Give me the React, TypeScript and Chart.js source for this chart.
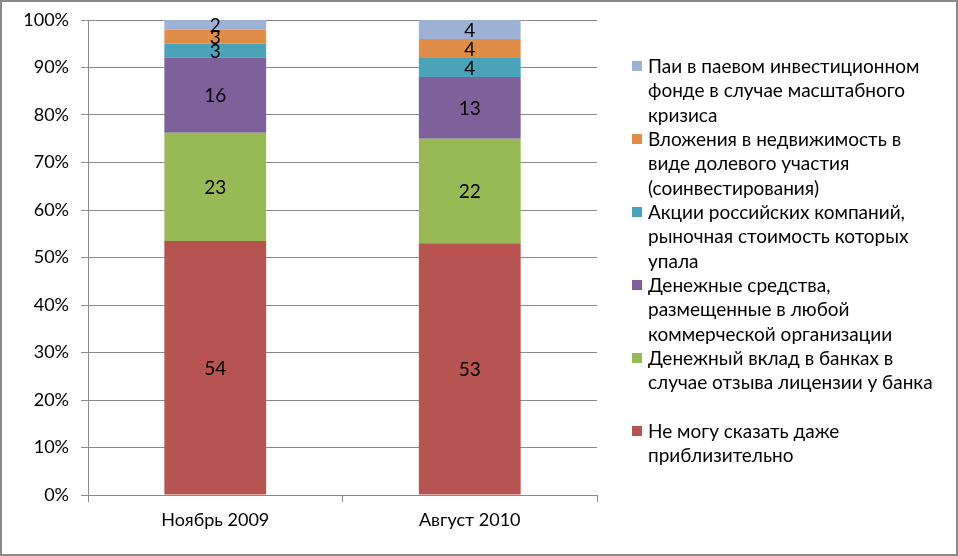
import React, { useEffect, useRef } from "react";
import { Chart, registerables } from "chart.js";

Chart.register(...registerables);

// Survey periods on the category axis
const categories = ["Ноябрь 2009", "Август 2010"];

// Answer options, bottom of the stack first
const seriesNames = [
  "Не могу сказать даже\nприблизительно",
  "Денежный вклад в банках в\nслучае отзыва лицензии у банка",
  "Денежные средства,\nразмещенные в любой\nкоммерческой организации",
  "Акции российских компаний,\nрыночная стоимость которых\nупала",
  "Вложения в недвижимость в\nвиде долевого участия\n(соинвестирования)",
  "Паи в паевом инвестиционном\nфонде в случае масштабного\nкризиса",
];

const seriesColors = ["#B75350", "#98B955", "#7E619B", "#4BA3BA", "#E08E47", "#9DB1D5"];

// Answer shares per period, same order as seriesNames
const cantSay = [54, 53];
const bankDeposit = [23, 22];
const commercialOrg = [16, 13];
const russianShares = [3, 4];
const realEstate = [3, 4];
const mutualFunds = [2, 4];

const seriesValues = [cantSay, bankDeposit, commercialOrg, russianShares, realEstate, mutualFunds];

const yTicks = [0, 10, 20, 30, 40, 50, 60, 70, 80, 90, 100];

const FONT = "Lato, 'Open Sans', sans-serif";

// Prints each segment's value in its middle
const valueLabels = {
  id: "valueLabels",
  afterDatasetsDraw(chart: any) {
    const ctx = chart.ctx;
    ctx.save();
    ctx.font = `19px ${FONT}`;
    ctx.fillStyle = "#000";
    ctx.textAlign = "center";
    ctx.textBaseline = "middle";
    chart.data.datasets.forEach((ds: any, di: number) => {
      const meta = chart.getDatasetMeta(di);
      meta.data.forEach((el: any, i: number) => {
        const raw = ds.rawValues[i];
        ctx.fillText(String(raw), el.x, (el.y + el.base) / 2 + 1);
      });
    });
    ctx.restore();
  },
};

export default function App() {
  const canvasRef = useRef<HTMLCanvasElement | null>(null);

  useEffect(() => {
    const totals = categories.map((_, i) => seriesValues.reduce((s, arr) => s + arr[i], 0));
    const chart = new Chart(canvasRef.current as HTMLCanvasElement, {
      type: "bar",
      data: {
        labels: categories,
        datasets: seriesValues.map((vals, k) => ({
          label: seriesNames[k],
          data: vals.map((v, i) => (v / totals[i]) * 100),
          rawValues: vals,
          backgroundColor: seriesColors[k],
          borderWidth: 0,
          categoryPercentage: 1,
          barPercentage: 0.4,
        })) as any,
      },
      options: {
        responsive: false,
        animation: false,
        layout: { padding: { left: 0, right: 359, top: 18, bottom: 0 } },
        plugins: {
          legend: { display: false },
          tooltip: { enabled: false },
        },
        scales: {
          x: {
            stacked: true,
            grid: {
              offset: true,
              drawOnChartArea: false,
              drawTicks: true,
              tickLength: 7,
              color: "#8a8a8a",
            },
            border: { color: "#8a8a8a", width: 1 },
            ticks: {
              color: "#000",
              font: { family: FONT, size: 18 },
              padding: 7,
            },
            afterFit(scale: any) {
              scale.height = 59;
              scale.paddingLeft = 0;
              scale.paddingRight = 0;
            },
          },
          y: {
            stacked: true,
            min: 0,
            max: 100,
            afterBuildTicks(scale: any) {
              scale.ticks = yTicks.map((v) => ({ value: v }));
            },
            grid: {
              color: "#8a8a8a",
              tickLength: 7,
            },
            border: { color: "#8a8a8a", width: 1 },
            ticks: {
              color: "#000",
              font: { family: FONT, size: 18 },
              padding: 12,
              callback: (v: any) => `${v}%`,
            },
            afterFit(scale: any) {
              scale.width = 86;
              scale.paddingTop = 0;
              scale.paddingBottom = 0;
            },
          },
        },
      },
      plugins: [valueLabels],
    });
    return () => chart.destroy();
  }, []);

  const legendOrder = seriesNames.map((_, i) => i).reverse();

  return (
    <div
      style={{
        position: "absolute",
        left: 0,
        top: 0,
        width: 958,
        height: 556,
        boxSizing: "border-box",
        border: "2px solid #8a8a8a",
        background: "#fff",
        fontFamily: FONT,
      }}
    >
      <canvas ref={canvasRef} width={954} height={552} style={{ display: "block" }} />
      {legendOrder.map((k, row) => (
        <div
          key={k}
          style={{
            position: "absolute",
            left: 630,
            top: 52 + row * 73,
            display: "flex",
            alignItems: "flex-start",
          }}
        >
          <span
            style={{
              display: "inline-block",
              flex: "none",
              width: 10,
              height: 10,
              marginTop: 7,
              marginRight: 6,
              background: seriesColors[k],
            }}
          />
          <span
            style={{
              whiteSpace: "pre",
              fontSize: 19,
              lineHeight: "24.4px",
              color: "#000",
            }}
          >
            {seriesNames[k]}
          </span>
        </div>
      ))}
    </div>
  );
}
